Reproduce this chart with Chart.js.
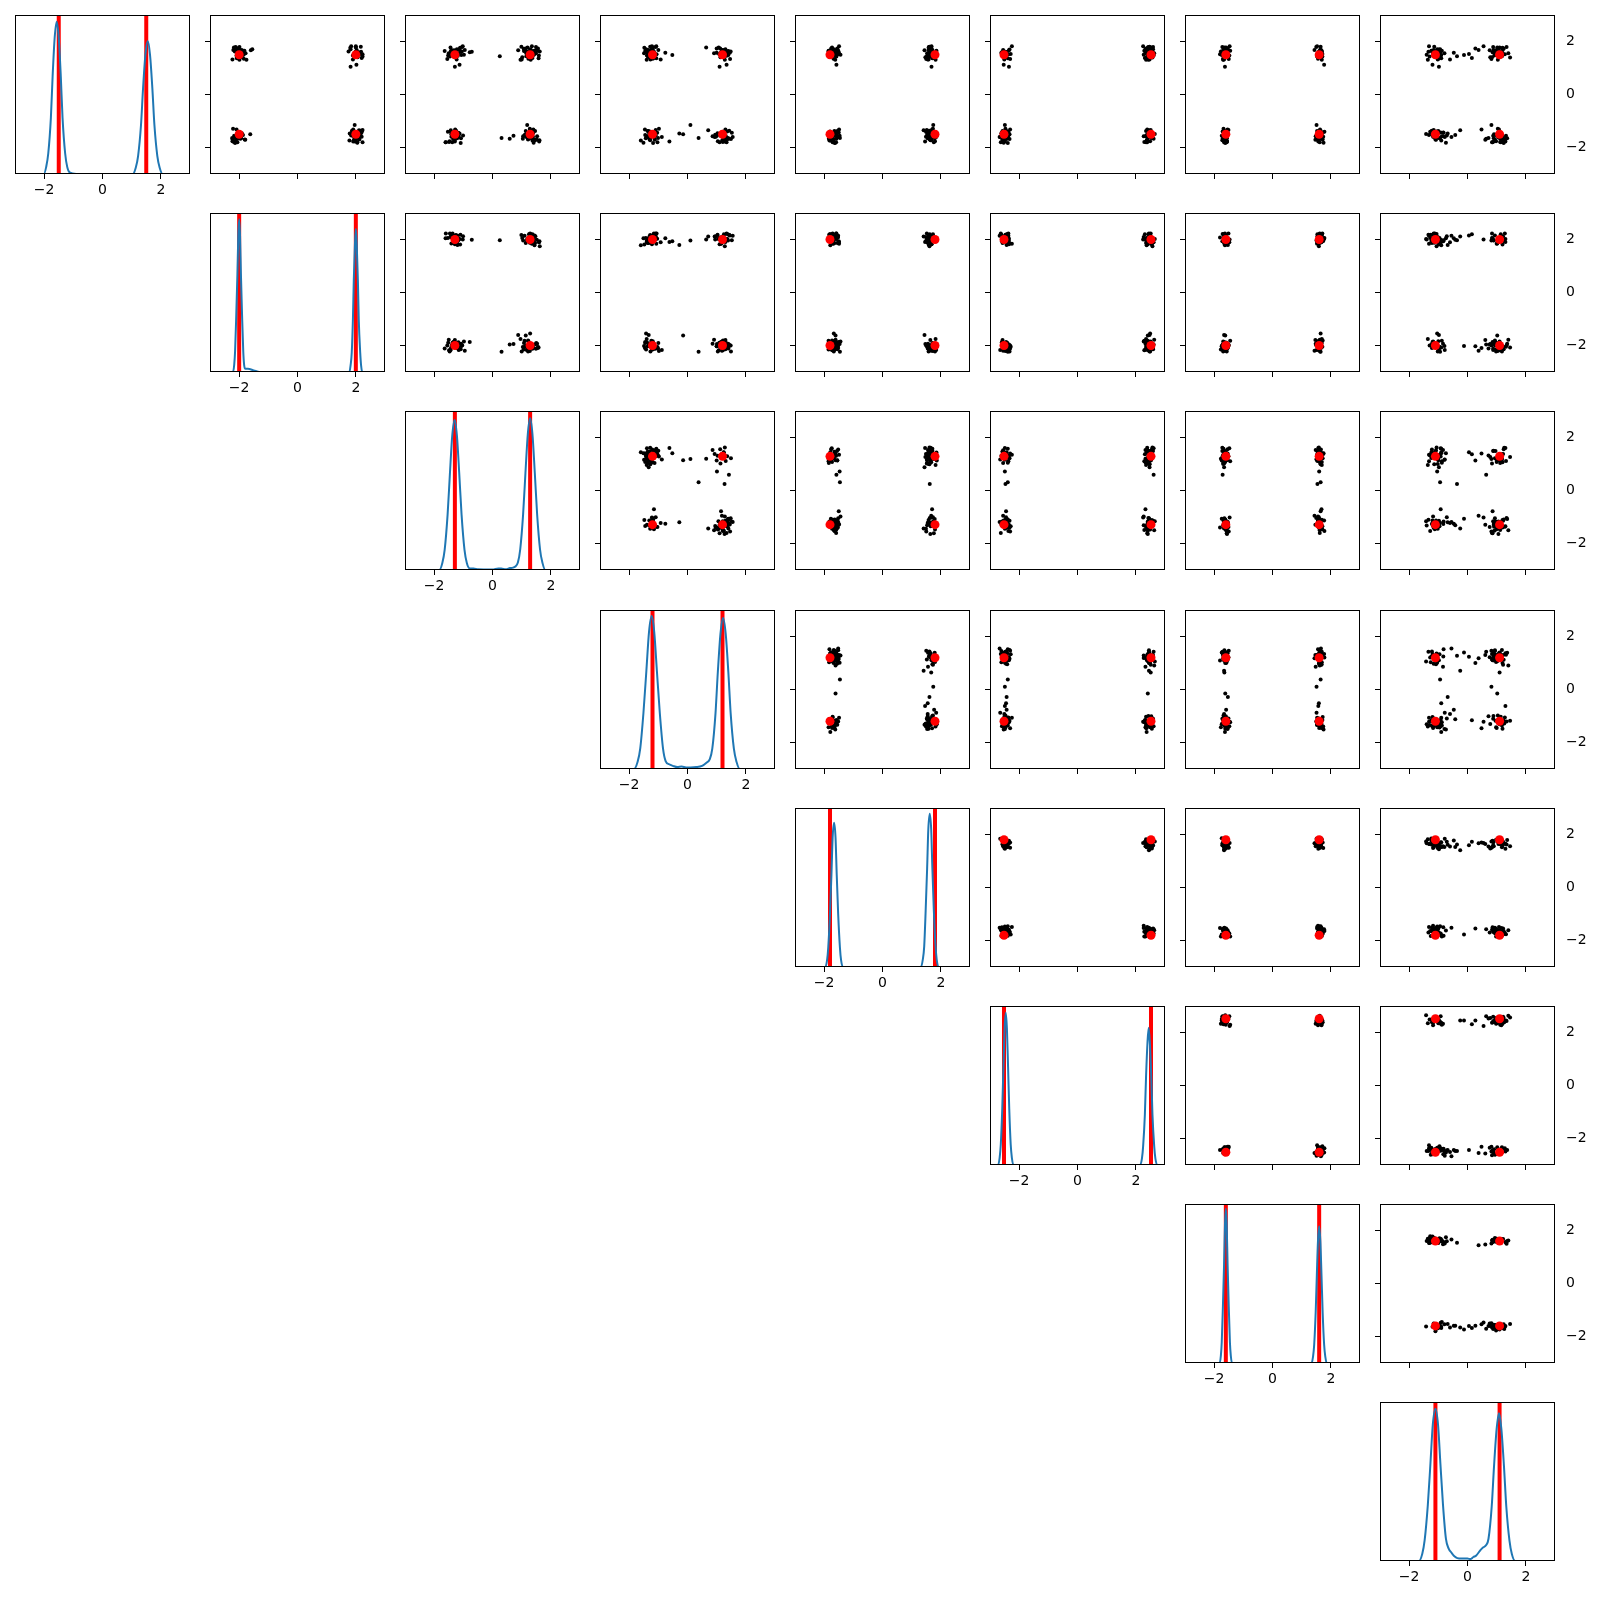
<!DOCTYPE html>
<html>
<head>
<meta charset="utf-8">
<script src="https://cdn.jsdelivr.net/npm/chart.js@4.4.1/dist/chart.umd.min.js"></script>
<style>
  body { margin: 0; background: #fff; width: 1600px; height: 1600px; position: relative; overflow: hidden; }
  canvas { position: absolute; }
</style>
</head>
<body>
<script>
// true parameter values (red lines / red dots)
const truth = [1.5, 2.0, 1.29, 1.2, 1.8, 2.52, 1.6, 1.1];
const tickVals = [-2, 0, 2];

// posterior samples, one array per parameter (same index = same draw)
const p0 = [1.59, -1.38, 1.79, -1.65, -1.46, 1.34, 1.71, -1.82, 1.50, -1.29,
  -1.58, 1.74, -1.71, 1.43, 1.62, -1.49, -1.77, 1.67, 1.32, -1.60,
  1.47, -1.37, 1.82, -1.56, 1.68, -1.74, 1.40, -1.52, -1.80, 1.65,
  -1.44, 1.56, -1.35, 1.47, -1.68, 1.79, 1.52, -1.64, 1.31, -1.77,
  1.62, 1.38, -1.56, -1.41, 1.76, -1.60, 1.53, -1.73, 1.59, -1.34,
  -1.70, 1.46, 1.64, -1.53, -1.40, 1.56, 1.82, -1.64, 1.43, -1.50,
  1.71, -1.59, -1.80, 1.35, 1.58, -1.47, 1.65, -1.67, 1.52, -1.58,
  -1.55, 1.77, 1.12, -1.32, 1.67, -1.58, -1.15, 1.49, 1.62, -1.83,
  1.55, -1.62, 1.44, -1.43, 1.68, 1.61, -1.52, -1.76, 1.32, -1.56,
  -1.65, 1.52, -1.44, 1.73, -1.59, 1.41, 1.64, -1.38, -1.70, 1.58,
  1.46, -1.71, 1.80, -1.50, 1.56, -1.32, -1.60, 1.70, 1.50, -1.67,
  -1.49, 1.62, -1.79, 1.55, -1.55, 1.37, 1.59, -1.59, 1.74, -1.41,
  1.67, -1.53, 1.49, -1.62, -1.68, 1.71, 1.41, -1.46, 1.61, -1.74,
  -1.61, 1.58, 1.31, -1.55, 1.65, -1.65, -1.47, 1.77, 1.53, -1.53,
  1.64, -1.43, -1.58, 1.56, 1.44, -1.80, 1.68, -1.56, -1.50, 1.05];
const p1 = [2.09, 1.87, -2.12, -1.93, 2.18, -2.00, 1.82, 2.05, -1.85, -2.21,
  1.96, -2.06, -1.79, 2.23, -2.15, 2.02, 1.91, -1.96, -2.23, 2.14,
  -1.90, 2.17, 1.84, -2.03, -2.20, 1.78, -2.08, 2.00, 2.23, -1.82,
  2.03, -1.88, 2.11, 1.90, -2.23, -1.99, 2.08, -2.11, -1.75, 1.97,
  -2.02, 2.20, -1.94, 2.06, 1.81, -2.17, -2.05, 1.93, -1.87, 2.23,
  2.12, -2.09, -1.91, 1.99, 2.21, -1.78, 2.00, -2.24, -2.00, 1.85,
  -2.14, 1.94, 2.05, -1.84, 2.15, 1.79, -1.97, -2.06, 2.23, -1.93,
  1.88, -2.18, 2.02, -2.09, -1.60, 2.09, 1.96, -2.02, 1.75, -2.14,
  -1.99, 2.08, -2.03, 1.93, -1.91, 2.18, 2.03, -2.23, 1.90, -2.05,
  2.06, -1.85, 1.97, -2.15, 2.12, -1.94, -2.11, 1.87, -1.81, 2.05,
  -2.08, 1.99, 2.17, -1.90, -2.02, 1.91, 2.11, -2.14, 2.00, -1.96,
  1.94, -2.00, -2.18, 2.03, 1.84, -2.08, -1.88, 2.20, -2.03, 2.09,
  -1.97, 2.14, 1.93, -2.05, 2.02, -1.55, 2.06, -1.91, 1.99, -2.12,
  2.02, -2.03, -1.99, 2.12, -2.09, 1.96, -1.93, 2.00, 2.15, -1.87,
  -2.11, 1.90, 2.08, -1.94, 1.97, -2.06, 2.03, -2.17, -1.62, 1.82];
const p2 = [-1.32, 1.14, 1.49, -1.08, 1.31, -1.55, -1.22, 1.41, -0.98, 1.28,
  1.05, 1.56, -1.29, -1.46, 1.20, -1.16, 1.60, -1.38, 1.00, -1.19,
  -1.52, -1.25, 1.35, 1.13, -0.95, 1.44, 1.26, -1.34, -1.60, 1.10,
  1.40, -1.17, -1.43, 1.59, 1.22, -1.04, -1.40, 1.32, 0.96, -1.29,
  -1.26, 1.37, 0.72, -1.53, -1.11, 1.17, -1.35, 1.61, -0.78, 1.29,
  1.47, -1.23, 1.08, -1.31, 1.29, -1.50, -1.02, 0.31, 1.34, -1.41,
  -1.14, 1.38, -1.61, 1.23, -1.28, -1.20, 1.43, 1.04, -1.37, 1.53,
  1.28, -1.44, -1.13, 1.40, 0.88, -1.31, 1.19, -1.07, 1.62, -1.09,
  -1.38, 1.25, 1.16, -1.26, 1.50, -1.10, 1.31, -1.47, -1.23, 1.11,
  1.35, -1.31, -1.17, 1.07, -1.41, 1.26, -1.64, 1.46, 1.22, -1.25,
  -1.19, 1.52, 0.99, -1.37, 1.16, -1.28, 1.38, -1.14, -1.32, 0.59,
  1.23, -1.05, -1.49, 1.34, -1.22, 1.58, -1.29, 1.25, 1.13, -1.44,
  -1.31, 1.10, 1.41, -1.17, -1.35, 1.29, 1.02, -1.25, -0.71, 1.37,
  1.19, -1.40, 1.31, -1.01, 1.55, -1.22, -1.13, 1.20, 1.44, -1.34,
  -1.43, 1.28, -1.26, 1.49, 0.25, -1.38, 1.32, -1.16, 1.14, -1.29];
const p3 = [1.19, -1.33, -1.10, 1.39, 1.03, 1.46, -1.22, -1.51, 1.28, -0.98,
  -1.36, 1.12, 1.30, -1.15, -1.42, 1.06, -0.62, 1.22, -1.27, 1.55,
  1.25, 1.43, -1.07, -1.31, 1.18, -1.60, -1.18, 0.95, 1.34, -1.24,
  -1.04, 1.31, 0.71, -1.39, 1.49, -1.21, 1.09, -1.01, -1.40, 1.27,
  1.37, -1.16, 1.01, 1.21, -1.48, -0.88, 1.33, -1.28, 1.15, -1.09,
  -1.30, 1.24, -1.45, -1.12, 1.36, 0.91, -1.22, 0.38, -1.34, 1.16,
  1.30, -1.40, 1.10, -1.19, 1.45, -0.28, 1.24, -1.13, -1.06, 0.86,
  -1.25, 1.07, 1.34, -1.46, -1.33, 1.19, 0.10, 1.40, 1.28, -1.18,
  1.13, -1.27, -1.36, 1.25, -1.00, 1.42, -1.24, 1.04, -0.92, 1.31,
  -1.43, 1.18, 1.52, -1.21, 0.97, -1.30, 1.27, -1.37, 1.22, -0.76,
  1.34, -1.12, -1.28, 1.09, -1.49, 1.30, 0.93, -1.19, -1.31, 1.42,
  -1.16, 1.48, 1.21, -1.34, 1.15, -1.07, -1.39, 1.25, 1.00, -1.28,
  1.22, -1.22, -0.52, 1.33, 1.37, -1.42, 1.13, -1.25, -1.15, 1.19,
  -1.34, 1.00, 1.28, -1.09, -1.21, 1.39, -1.31, 0.64, 1.24, -1.45,
  1.40, -1.30, 1.16, -1.18, 1.27, -1.03, -1.36, 1.21, -0.15, 1.10];
const p4 = [-1.71, -1.55, 1.59, 1.79, -1.83, 1.50, 1.68, -1.62, -1.44, 1.73,
  1.53, -1.76, 1.64, -1.58, -1.85, 1.74, 1.46, -1.70, 1.58, -1.52,
  -1.65, 1.61, -1.49, 1.86, 1.67, -1.79, 1.56, 1.71, -1.59, -1.85,
  1.70, -1.56, 1.41, -1.74, -1.67, 1.62, -1.53, 1.55, 1.82, -1.68,
  -1.61, 1.73, -1.47, -1.64, 1.58, 1.84, -1.77, 1.65, -1.50, 1.52,
  1.62, 1.77, -1.73, 1.53, -1.80, -1.61, 1.68, -1.46, 1.64, -1.67,
  -1.55, 1.49, 1.76, -1.68, -1.62, 1.61, 1.85, -1.84, -1.71, 1.56,
  1.67, -1.73, -1.58, 1.70, 1.44, -1.53, 1.74, -1.77, 1.61, -1.64,
  -1.68, 1.59, 1.52, -1.50, 1.71, -1.70, -1.59, 1.80, 1.55, -1.76,
  1.56, -1.64, -1.82, 1.67, -1.56, 1.47, 1.64, -1.65, -1.73, 1.77,
  -1.74, 1.68, 1.61, -1.61, 1.53, -1.49, 1.73, -1.71, 1.67, -1.58,
  1.76, -1.52, -1.67, 1.59, -1.70, 1.71, -1.64, 1.62, -1.55, 1.49,
  -1.58, 1.64, 1.55, -1.77, 1.65, -1.67, 1.52, -1.61, 1.70, -1.82,
  1.61, -1.68, -1.62, 1.73, -1.52, 1.56, -1.74, 1.67, 1.59, -1.65,
  -1.64, 1.53, 1.71, -1.56, 1.62, -1.71, 1.58, -1.67, -1.61, 1.68];
const p5 = [2.49, 2.35, 2.59, -2.43, -2.61, -2.31, 2.41, -2.53, 2.27, -2.47,
  -2.39, 2.55, -2.57, 2.45, 2.33, 2.65, -2.49, -2.35, 2.47, -2.67,
  2.41, -2.45, -2.25, 2.51, -2.55, 2.37, 2.57, -2.41, -2.63, 2.29,
  -2.51, -2.59, 2.45, 2.61, -2.33, 2.43, -2.43, 2.53, 2.35, -2.55,
  2.47, 2.31, -2.49, -2.37, 2.55, -2.65, -2.29, 2.39, -2.45, 2.51,
  -2.57, 2.43, 2.35, -2.47, -2.41, 2.63, 2.25, -2.39, 2.49, -2.33,
  2.59, -2.51, 2.39, 2.43, -2.61, -2.43, 2.49, -2.55, -2.37, 2.33,
  -2.45, 2.41, -2.53, -2.31, 2.47, 2.27, -2.49, 2.45, 2.57, -2.39,
  2.37, -2.41, 2.53, -2.59, 2.43, -2.47, -2.35, 2.49, -2.51, 2.45,
  -2.47, 2.51, -2.39, 2.33, -2.45, 2.55, 2.41, -2.57, 2.39, -2.43,
  2.43, -2.55, 2.47, -2.41, -2.49, 2.39, 2.51, -2.33, -2.47, 2.61,
  -2.35, 2.45, 2.29, -2.51, 2.53, -2.39, -2.59, 2.43, 2.45, -2.49,
  2.55, -2.37, -2.45, 2.41, -2.43, 2.49, 2.37, -2.47, 2.33, -2.53,
  -2.49, 2.47, 2.43, -2.45, 2.39, -2.55, -2.41, 2.51, -2.43, 2.37,
  2.45, -2.43, -2.51, 2.49, -2.47, 2.35, 2.47, -2.45, 2.41, -2.35];
const p6 = [-1.65, 1.53, -1.72, 1.60, 1.69, -1.50, -1.59, 1.75, 1.56, -1.68,
  1.63, -1.54, 1.47, 1.71, -1.77, -1.62, 1.57, -1.51, -1.69, 1.66,
  -1.57, 1.65, 1.53, -1.74, 1.44, -1.63, -1.53, 1.68, 1.62, -1.45,
  1.72, 1.59, -1.66, -1.48, 1.63, 1.50, -1.80, -1.60, 1.69, -1.56,
  -1.54, -1.68, 1.60, 1.78, -1.62, 1.51, 1.71, -1.72, 1.65, -1.51,
  1.54, -1.63, 1.69, -1.59, -1.71, 1.62, -1.47, 1.65, 1.53, -1.65,
  -1.68, 1.74, -1.57, 1.56, 1.62, -1.53, 1.66, -1.69, -1.63, 1.48,
  1.60, -1.59, 1.77, -1.54, -1.66, 1.68, 1.51, -1.74, 1.59, -1.62,
  -1.60, 1.63, -1.56, 1.57, -1.65, 1.69, 1.60, -1.57, -1.66, 1.54,
  1.66, -1.69, 1.56, -1.63, 1.59, -1.60, -1.56, 1.62, 1.72, -1.59,
  -1.62, 1.57, 1.65, -1.66, -1.54, 1.63, 1.68, -1.62, 1.60, -1.71,
  1.56, -1.65, -1.60, 1.66, 1.57, -1.68, -1.63, 1.54, -1.59, 1.62,
  -1.63, 1.60, 1.59, -1.56, -1.60, 1.65, -1.66, 1.63, 1.68, -1.57,
  1.62, -1.62, -1.69, 1.59, 1.66, -1.57, 1.56, -1.65, -1.60, 1.60,
  -1.59, 1.68, -1.63, 1.62, 1.54, -1.66, 1.63, 1.57, -1.62, -1.63];
const p7 = [1.16, -1.00, 0.88, 1.36, -1.26, 0.82, -0.94, -0.74, -1.18, 1.04,
  -0.88, 1.24, 0.61, -1.12, 0.98, -1.42, 1.30, 0.76, -1.02, -0.55,
  0.92, -1.22, -1.32, 1.10, 0.38, -0.90, 1.46, -1.08, 0.84, -0.88,
  -1.20, 0.96, -0.25, -0.92, 1.18, 1.34, -1.10, 0.72, -1.36, 0.90,
  1.08, 0.15, -1.04, -1.28, 1.20, -0.78, -0.96, 1.26, 0.86, -1.16,
  -1.10, 1.14, 1.00, -0.42, -1.06, 1.40, 0.55, -0.94, -1.30, 1.02,
  1.22, -1.18, 0.86, -1.00, 0.94, -0.68, -1.24, 1.12, 1.28, -0.84,
  -1.14, 1.02, -1.20, 0.48, -0.98, 1.16, 0.82, -0.12, -1.06, 1.24,
  1.04, -1.12, 1.18, -0.83, 0.89, -1.34, -1.04, 0.98, -0.60, 1.32,
  -0.96, 1.10, -0.82, 1.20, -1.16, 0.78, 1.06, -1.22, 0.94, -0.47,
  1.12, -1.08, -1.14, 0.91, -0.79, 1.08, 1.22, -0.98, -1.40, 0.64,
  -1.24, 0.94, 1.12, -1.10, 1.00, -0.90, -1.20, 1.14, 0.27, -1.02,
  0.98, -1.32, -0.90, 1.06, 1.30, -1.04, 0.84, -1.12, -0.92, 1.18,
  -1.02, 1.20, 1.04, -0.71, -1.22, 0.90, -1.08, 1.10, 0.05, -1.18,
  1.10, -0.92, -1.10, 0.96, -0.36, 1.14, -1.16, 0.88, 1.02, -0.98];
const samples = [p0, p1, p2, p3, p4, p5, p6, p7];

// marginal density curves, [x, density]
const kde0 = [[-3, 0], [-2.01, 0], [-1.93, 0.045], [-1.86, 0.129], [-1.77, 0.353], [-1.71, 0.615], [-1.64, 0.857], [-1.57, 0.958],
  [-1.50, 0.857], [-1.43, 0.615], [-1.37, 0.353], [-1.28, 0.129], [-1.21, 0.045], [-1.13, 0.01], [-0.9, 0],
  [1.04, 0], [1.14, 0.039], [1.22, 0.113], [1.32, 0.308], [1.39, 0.537], [1.47, 0.748], [1.55, 0.836],
  [1.63, 0.748], [1.71, 0.537], [1.78, 0.308], [1.88, 0.113], [1.96, 0.039], [2.06, 0], [3, 0]];
const kde1 = [[-3, 0], [-2.21, 0], [-2.17, 0.045], [-2.14, 0.13], [-2.10, 0.353], [-2.06, 0.616], [-2.03, 0.859], [-2.0, 0.96],
  [-1.97, 0.859], [-1.94, 0.616], [-1.90, 0.353], [-1.86, 0.13], [-1.83, 0.045], [-1.79, 0.02], [-1.7, 0.02], [-1.5, 0.01], [-1.3, 0],
  [1.78, 0], [1.82, 0.042], [1.86, 0.122], [1.90, 0.331], [1.93, 0.578], [1.97, 0.806], [2.0, 0.90],
  [2.03, 0.806], [2.07, 0.578], [2.10, 0.331], [2.15, 0.122], [2.18, 0.042], [2.22, 0], [3, 0]];
const kde2 = [[-3, 0], [-1.82, 0], [-1.72, 0.044], [-1.64, 0.127], [-1.54, 0.347], [-1.46, 0.606], [-1.38, 0.845], [-1.30, 0.944],
  [-1.22, 0.845], [-1.14, 0.606], [-1.06, 0.347], [-0.96, 0.127], [-0.88, 0.044], [-0.78, 0.01], [-0.65, 0.01], [-0.5, 0.004],
  [-0.3, 0.003], [0, 0.003], [0.2, 0.01], [0.3, 0.01], [0.45, 0.004], [0.6, 0.012], [0.7, 0.015],
  [0.77, 0.02], [0.87, 0.047], [0.95, 0.129], [1.05, 0.351], [1.13, 0.612], [1.21, 0.854], [1.29, 0.954],
  [1.37, 0.854], [1.45, 0.612], [1.53, 0.351], [1.63, 0.129], [1.71, 0.047], [1.81, 0], [3, 0]];
const kde3 = [[-3, 0], [-1.83, 0], [-1.71, 0.045], [-1.62, 0.13], [-1.51, 0.354], [-1.41, 0.618], [-1.32, 0.861], [-1.23, 0.962],
  [-1.14, 0.861], [-1.05, 0.618], [-0.95, 0.354], [-0.84, 0.13], [-0.75, 0.05], [-0.63, 0.03], [-0.5, 0.02],
  [-0.35, 0.012], [-0.2, 0.015], [-0.05, 0.01], [0.1, 0.01], [0.3, 0.012], [0.5, 0.02], [0.65, 0.04],
  [0.76, 0.06], [0.85, 0.128], [0.96, 0.35], [1.04, 0.61], [1.13, 0.85], [1.22, 0.95],
  [1.31, 0.85], [1.40, 0.61], [1.48, 0.35], [1.59, 0.128], [1.68, 0.045], [1.79, 0], [3, 0]];
const kde4 = [[-3, 0], [-1.96, 0], [-1.90, 0.043], [-1.86, 0.123], [-1.80, 0.334], [-1.75, 0.583], [-1.71, 0.813], [-1.66, 0.908],
  [-1.61, 0.813], [-1.57, 0.583], [-1.52, 0.334], [-1.46, 0.123], [-1.42, 0.043], [-1.36, 0],
  [1.32, 0], [1.38, 0.045], [1.43, 0.13], [1.48, 0.355], [1.53, 0.619], [1.57, 0.863], [1.62, 0.964],
  [1.67, 0.863], [1.71, 0.619], [1.76, 0.355], [1.82, 0.13], [1.86, 0.045], [1.92, 0], [3, 0]];
const kde5 = [[-3, 0], [-2.72, 0], [-2.67, 0.045], [-2.63, 0.129], [-2.58, 0.353], [-2.54, 0.615], [-2.50, 0.857], [-2.46, 0.958],
  [-2.42, 0.857], [-2.38, 0.615], [-2.34, 0.353], [-2.29, 0.129], [-2.25, 0.045], [-2.20, 0],
  [2.15, 0], [2.21, 0.041], [2.25, 0.117], [2.31, 0.318], [2.35, 0.554], [2.40, 0.772], [2.44, 0.863],
  [2.48, 0.772], [2.53, 0.554], [2.57, 0.318], [2.63, 0.117], [2.67, 0.041], [2.73, 0], [3, 0]];
const kde6 = [[-3, 0], [-1.81, 0], [-1.77, 0.046], [-1.74, 0.131], [-1.70, 0.357], [-1.66, 0.623], [-1.63, 0.868], [-1.6, 0.97],
  [-1.57, 0.868], [-1.54, 0.623], [-1.50, 0.357], [-1.46, 0.131], [-1.43, 0.046], [-1.39, 0],
  [1.34, 0], [1.39, 0.04], [1.43, 0.116], [1.48, 0.316], [1.52, 0.552], [1.56, 0.770], [1.6, 0.86],
  [1.64, 0.770], [1.68, 0.552], [1.72, 0.316], [1.77, 0.116], [1.81, 0.04], [1.86, 0], [3, 0]];
const kde7 = [[-3, 0], [-1.66, 0], [-1.55, 0.045], [-1.47, 0.129], [-1.36, 0.353], [-1.27, 0.615], [-1.19, 0.857], [-1.10, 0.958],
  [-1.01, 0.857], [-0.93, 0.615], [-0.84, 0.353], [-0.74, 0.14], [-0.65, 0.08], [-0.54, 0.05], [-0.45, 0.03],
  [-0.35, 0.018], [-0.2, 0.015], [0, 0.015], [0.1, 0.012], [0.2, 0.025], [0.3, 0.035], [0.45, 0.07],
  [0.53, 0.085], [0.64, 0.1], [0.72, 0.14], [0.83, 0.343], [0.91, 0.597], [1.0, 0.832], [1.08, 0.93],
  [1.16, 0.832], [1.25, 0.597], [1.33, 0.343], [1.44, 0.126], [1.52, 0.044], [1.63, 0], [3, 0]];
const kdes = [kde0, kde1, kde2, kde3, kde4, kde5, kde6, kde7];

Chart.defaults.font.family = "'DejaVu Sans', sans-serif";
Chart.defaults.font.size = 14;
Chart.defaults.color = '#000';

// full frame around each axes
const frame = {
  id: 'frame',
  afterDraw(chart) {
    const a = chart.chartArea, c = chart.ctx;
    c.save();
    c.strokeStyle = '#000';
    c.lineWidth = 1;
    c.strokeRect(a.left + 0.5, a.top + 0.5, a.right - a.left - 1, a.bottom - a.top - 1);
    c.restore();
  }
};

const N = 8;
const PX = 195, PY = 198.2, W = 175, H = 159, X0 = 15, Y0 = 15;
const padL = 12, padT = 6, padB = 30, padR = 8, padR7 = 52;

function fmt(v) { return v < 0 ? '\u2212' + Math.abs(v) : String(v); }
function setTicks(s) { s.ticks = tickVals.map(v => ({ value: v })); }
function noPad(s) { s.paddingTop = 0; s.paddingBottom = 0; s.paddingLeft = 0; s.paddingRight = 0; }

function panel(i, j) {
  const diag = i === j, last = j === N - 1;
  const left = Math.round(X0 + PX * j), top = Math.round(Y0 + PY * i);
  const cw = padL + W + (last ? padR7 : padR), ch = padT + H + padB;
  const cv = document.createElement('canvas');
  cv.width = cw; cv.height = ch;
  cv.style.left = (left - padL) + 'px';
  cv.style.top = (top - padT) + 'px';
  cv.style.width = cw + 'px';
  cv.style.height = ch + 'px';
  document.body.appendChild(cv);

  const tickGrid = { drawOnChartArea: false, drawTicks: true, tickLength: 5, color: '#000', tickColor: '#000', lineWidth: 1 };
  const scales = {
    x: {
      type: 'linear', position: 'bottom', min: -3, max: 3,
      afterBuildTicks: setTicks,
      afterFit: s => { s.height = padB; noPad(s); },
      grid: tickGrid,
      border: { display: false },
      ticks: { display: diag, callback: fmt, padding: 3, maxRotation: 0, autoSkip: false }
    },
    y: {
      type: 'linear', position: 'left',
      min: diag ? 0 : -3, max: diag ? 1 : 3,
      afterBuildTicks: diag ? undefined : setTicks,
      afterFit: s => { s.width = padL; noPad(s); },
      grid: diag ? { display: false, drawTicks: false } : tickGrid,
      border: { display: false },
      ticks: { display: false }
    }
  };
  let rightPad = last ? padR7 : padR;
  if (last && !diag) {
    rightPad = 0;
    scales.y2 = {
      type: 'linear', position: 'right', min: -3, max: 3,
      afterBuildTicks: setTicks,
      afterFit: s => { s.width = padR7; noPad(s); },
      grid: { display: false, drawTicks: false },
      border: { display: false },
      ticks: { display: true, callback: fmt, padding: 11, autoSkip: false }
    };
  }

  let datasets;
  if (diag) {
    const t = truth[i];
    datasets = [
      { data: kdes[i].map(p => ({ x: p[0], y: p[1] })), showLine: true, borderColor: '#1f77b4',
        borderWidth: 2, pointRadius: 0, cubicInterpolationMode: 'monotone', fill: false, order: 0 },
      { data: [{ x: -t, y: 0 }, { x: -t, y: 1 }], showLine: true, borderColor: '#ff0000',
        borderWidth: 4, pointRadius: 0, order: 1 },
      { data: [{ x: t, y: 0 }, { x: t, y: 1 }], showLine: true, borderColor: '#ff0000',
        borderWidth: 4, pointRadius: 0, order: 1 }
    ];
  } else {
    const xs = samples[j], ys = samples[i];
    const tx = truth[j], ty = truth[i];
    datasets = [
      { data: [{ x: -tx, y: ty }, { x: tx, y: ty }, { x: -tx, y: -ty }, { x: tx, y: -ty }],
        pointRadius: 4.5, backgroundColor: '#ff0000', borderWidth: 0, order: 0 },
      { data: xs.map((v, k) => ({ x: v, y: ys[k] })),
        pointRadius: 2, backgroundColor: '#000', borderWidth: 0, order: 1 }
    ];
  }

  new Chart(cv, {
    type: 'scatter',
    data: { datasets },
    options: {
      responsive: false,
      animation: false,
      devicePixelRatio: 1,
      layout: { padding: { left: 0, top: padT, right: rightPad, bottom: 0 } },
      plugins: { legend: { display: false }, tooltip: { enabled: false } },
      events: [],
      scales
    },
    plugins: [frame]
  });
}

for (let i = 0; i < N; i++) {
  for (let j = i; j < N; j++) panel(i, j);
}
</script>
</body>
</html>
